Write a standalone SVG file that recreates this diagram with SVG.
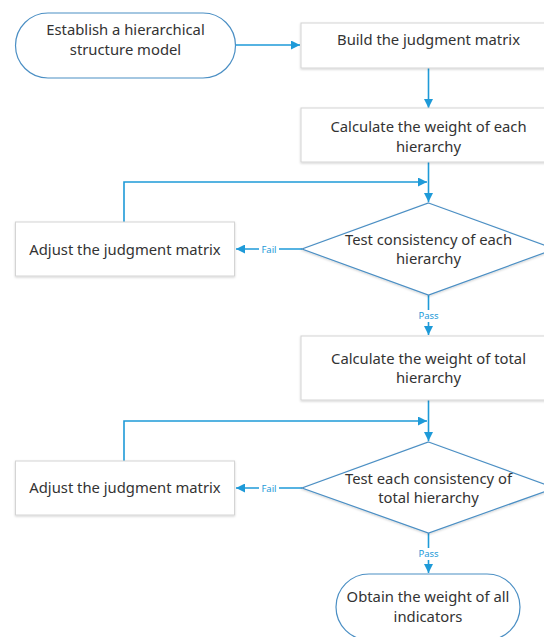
<svg xmlns="http://www.w3.org/2000/svg" width="544" height="637" viewBox="0 0 544 637">
<style>
text{font-family:"Noto Sans","Open Sans","Liberation Sans",sans-serif;font-size:14.8px;fill:#333;text-anchor:middle}
.box{fill:#fff;stroke:#d4d4d4;stroke-width:1;filter:url(#sh)}
.term{fill:#fff;stroke:#4b8fc4;stroke-width:1.2}
.dia{fill:#fff;stroke:#4b8fc4;stroke-width:1.2;filter:url(#sh)}
.c{fill:none;stroke:#1e9ad8;stroke-width:1.6;marker-end:url(#ah)}
.lbl{font-size:9.5px;fill:#1e9ad8}
.lblbg{fill:#fff}
</style>
<defs>
<marker id="ah" viewBox="0 0 10 10" refX="10" refY="5" markerWidth="9" markerHeight="9" markerUnits="userSpaceOnUse" orient="auto">
<path d="M0,0 L10,5 L0,10 z" fill="#1e9ad8"/>
</marker>
<filter id="sh" x="-10%" y="-10%" width="120%" height="130%">
<feDropShadow dx="0" dy="1" stdDeviation="1.2" flood-color="#000" flood-opacity="0.18"/>
</filter>
</defs>
<rect width="544" height="637" fill="#fff"/>
<g id="connectors">
<path class="c" d="M235,45 H300"/>
<path class="c" d="M428.5,68 V108"/>
<path class="c" d="M428.5,162 V202"/>
<path class="c" d="M124,222 V182 H427"/>
<path class="c" d="M302,249 H236"/>
<path class="c" d="M428.5,295 V335"/>
<path class="c" d="M428.5,400 V441"/>
<path class="c" d="M124,461 V421 H427"/>
<path class="c" d="M302,488 H236"/>
<path class="c" d="M428.5,533 V573"/>
<rect class="lblbg" x="259" y="243" width="20" height="12"/>
<text class="lbl" x="269" y="252.5">Fail</text>
<rect class="lblbg" x="259" y="482" width="20" height="12"/>
<text class="lbl" x="269" y="491.5">Fail</text>
<rect class="lblbg" x="416" y="310" width="25" height="12"/>
<text class="lbl" x="428.5" y="319">Pass</text>
<rect class="lblbg" x="416" y="548" width="25" height="12"/>
<text class="lbl" x="428.5" y="557">Pass</text>
</g>
<g id="start">
<rect class="term" x="15.5" y="13" width="220" height="65" rx="32.5"/>
<text x="125.5" y="35">Establish a hierarchical</text>
<text x="125.5" y="55">structure model</text>
</g>
<g id="build">
<rect class="box" x="301" y="23" width="256" height="45"/>
<text x="428.5" y="45">Build the judgment matrix</text>
</g>
<g id="calc-each">
<rect class="box" x="301" y="108" width="256" height="54"/>
<text x="428.5" y="131.5">Calculate the weight of each</text>
<text x="428.5" y="151.5">hierarchy</text>
</g>
<g id="test-each">
<path class="dia" d="M428.5,203 L555,249 L428.5,295 L302,249 Z"/>
<text x="428.5" y="245">Test consistency of each</text>
<text x="428.5" y="264">hierarchy</text>
</g>
<g id="adjust1">
<rect class="box" x="15.5" y="222" width="219" height="54"/>
<text x="125" y="255">Adjust the judgment matrix</text>
</g>
<g id="calc-total">
<rect class="box" x="301" y="336" width="256" height="64"/>
<text x="428.5" y="364">Calculate the weight of total</text>
<text x="428.5" y="383">hierarchy</text>
</g>
<g id="test-total">
<path class="dia" d="M428.5,442 L555,488 L428.5,533 L302,488 Z"/>
<text x="428.5" y="484">Test each consistency of</text>
<text x="428.5" y="503">total hierarchy</text>
</g>
<g id="adjust2">
<rect class="box" x="15.5" y="461" width="219" height="54"/>
<text x="125" y="493">Adjust the judgment matrix</text>
</g>
<g id="end">
<rect class="term" x="336" y="574" width="184" height="66" rx="33"/>
<text x="428" y="602">Obtain the weight of all</text>
<text x="428" y="622">indicators</text>
</g>
</svg>
